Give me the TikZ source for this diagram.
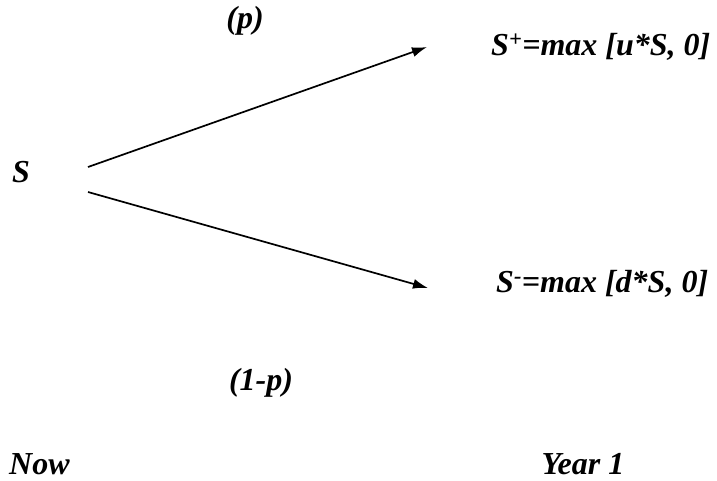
\documentclass[tikz,border=0pt]{standalone}
\usepackage{fontspec}
\setmainfont{Liberation Serif}
\usepackage{tikz}
\usetikzlibrary{arrows.meta, positioning, calc}

\begin{document}
\begin{tikzpicture}[
    x=1pt, y=-1pt,
    >={Latex[length=15pt,width=10pt]},
    lbl/.style={font=\fontsize{32}{37}\selectfont\bfseries\itshape, inner sep=0pt},
    flow/.style={->, line width=1.7pt}
]
\useasboundingbox (0,0) rectangle (717,480);

% Tree nodes
\node[lbl] (S) at (21,172) {S};
\node[lbl, anchor=west] (up) at (491,47) {S\textsuperscript{+}=max [u*S, 0]};
\node[lbl, anchor=west] (down) at (496,284) {S\textsuperscript{-}=max [d*S, 0]};

% Probabilities
\node[lbl] (p) at (245,21) {(p)};
\node[lbl] (q) at (261,383) {(1-p)};

% Time labels
\node[lbl, anchor=west] (now) at (9,464) {Now};
\node[lbl] (year) at (583,464) {Year 1};

% Branch end points
\coordinate (upfrom) at (88,167);
\coordinate (upto) at (427,47);
\coordinate (downfrom) at (88,192);
\coordinate (downto) at (428,288);

% Branches
\draw[flow] (upfrom) -- (upto);
\draw[flow] (downfrom) -- (downto);

\end{tikzpicture}
\end{document}
